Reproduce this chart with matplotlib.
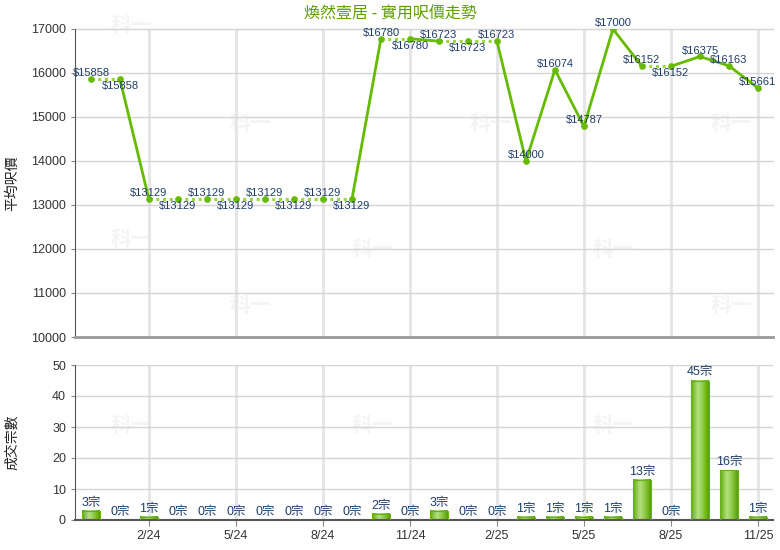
import numpy as np
import matplotlib
matplotlib.use("Agg")
import matplotlib.pyplot as plt
from matplotlib.colors import LinearSegmentedColormap

plt.rcParams['font.family'] = ['Liberation Sans', 'Noto Sans CJK TC', 'DejaVu Sans']

# monthly data 12/23 .. 11/25
months = ['12/23', '1/24', '2/24', '3/24', '4/24', '5/24', '6/24', '7/24', '8/24',
          '9/24', '10/24', '11/24', '12/24', '1/25', '2/25', '3/25', '4/25', '5/25',
          '6/25', '7/25', '8/25', '9/25', '10/25', '11/25']
prices = [15858, 15858, 13129, 13129, 13129, 13129, 13129, 13129, 13129, 13129,
          16780, 16780, 16723, 16723, 16723, 14000, 16074, 14787, 17000, 16152,
          16152, 16375, 16163, 15661]
volumes = [3, 0, 1, 0, 0, 0, 0, 0, 0, 0, 2, 0, 3, 0, 0, 1, 1, 1, 1, 13, 0, 45, 16, 1]

title = '煥然壹居 - 實用呎價走勢'
ylabel_top = '平均呎價'
ylabel_bottom = '成交宗數'

x = np.arange(len(months))
tick_idx = [i for i, m in enumerate(months) if int(m.split('/')[0]) % 3 == 2]

navy = '#1f3d6b'
solid_green = '#66bb00'
dot_green = '#9ad93a'

fig = plt.figure(figsize=(7.8, 5.5), dpi=100)

# faint watermarks (only where they do not sit on labels)
for fx, fy in [(131, 25), (250, 123), (490, 123), (731, 123),
               (131, 240), (372, 250), (613, 250), (250, 305), (731, 305),
               (131, 425), (372, 425), (613, 425)]:
    fig.text(fx / 780, 1 - fy / 550, '科一', fontsize=15, fontweight='bold',
             color='#f4f4f4', ha='center', va='center', zorder=-5,
             family=['Noto Sans CJK TC'])

ax1 = fig.add_axes([75 / 780, 1 - 337 / 550, 698 / 780, 308 / 550])
ax2 = fig.add_axes([75 / 780, 1 - 520 / 550, 698 / 780, 155 / 550])
for ax in (ax1, ax2):
    ax.set_facecolor('none')
    ax.set_xlim(-0.55, len(months) - 0.48)
    for t in tick_idx:
        ax.axvline(t, color='#e6e6e6', lw=2.2, zorder=0)
    ax.spines['top'].set_visible(False)
    ax.spines['right'].set_visible(False)
    ax.spines['left'].set_color('#555555')
    ax.tick_params(axis='y', labelsize=9, colors='#333333', length=3, color='#888888')
    ax.set_xticks([x[i] for i in tick_idx])

# ---- price chart
ax1.set_ylim(10000, 17000)
ax1.set_yticks(range(10000, 17001, 1000))
for v in range(10000, 17001, 1000):
    ax1.axhline(v, color='#d4d4d4', lw=1, zorder=0, clip_on=False)
ax1.spines['bottom'].set_color('#9a9a9a')
ax1.spines['bottom'].set_linewidth(2)
ax1.tick_params(axis='x', length=0, labelbottom=False)

for i in range(len(x) - 1):
    if volumes[i + 1] > 0:
        ax1.plot(x[i:i + 2], prices[i:i + 2], color=solid_green, lw=2, zorder=3,
                 solid_capstyle='round')
    else:
        ax1.plot(x[i:i + 2], prices[i:i + 2], color=dot_green, lw=2.2, zorder=3,
                 linestyle=(0, (1, 1.2)))
ax1.plot(x, prices, 'o', color=solid_green, ms=3.8, zorder=4)

pos = []
for i, p in enumerate(prices):
    if i > 0 and p == prices[i - 1] and pos[-1] == 'up':
        pos.append('down')
    else:
        pos.append('up')
for i, p in enumerate(prices):
    dy = 4.3 if pos[i] == 'up' else -5.0
    ax1.annotate('$%d' % p, (x[i], p), xytext=(0, dy), textcoords='offset points',
                 ha='center', va='center', fontsize=8, color=navy, zorder=5)

ax1.set_ylabel(ylabel_top, fontsize=10, color='#222222')
ax1.yaxis.label.set_va('center')
ax1.yaxis.set_label_coords(-0.09, 0.5)

# ---- volume chart
ax2.set_ylim(0, 50)
ax2.set_yticks(range(0, 51, 10))
for v in range(10, 51, 10):
    ax2.axhline(v, color='#d4d4d4', lw=1, zorder=0)
ax2.spines['bottom'].set_color('#555555')
ax2.spines['bottom'].set_linewidth(1.5)
ax2.set_xticklabels([months[i] for i in tick_idx], fontsize=9, color='#333333')
ax2.tick_params(axis='x', length=4, color='#888888', pad=3)

cmap = LinearSegmentedColormap.from_list(
    'bar', ['#5ca810', '#8cc84a', '#b4e07e', '#98d055', '#78bb2a', '#5a9e0c'])
grad = np.linspace(0, 1, 64).reshape(1, -1)
w = 0.62
for i, v in enumerate(volumes):
    if v > 0:
        ax2.imshow(grad, cmap=cmap, aspect='auto', zorder=2,
                   extent=(x[i] - w / 2, x[i] + w / 2, 0, v))
        ax2.bar(x[i], v, width=w, facecolor='none', edgecolor='#66b01a', lw=0.8, zorder=3)
    ax2.annotate('%d宗' % v, (x[i], v), xytext=(0, 1.5), textcoords='offset points',
                 ha='center', va='bottom', fontsize=9, color=navy, zorder=5)
ax2.set_xlim(-0.55, len(months) - 0.48)
ax2.set_ylim(0, 50)

ax2.set_ylabel(ylabel_bottom, fontsize=10, color='#222222')
ax2.yaxis.label.set_va('center')
ax2.yaxis.set_label_coords(-0.09, 0.5)

fig.text(0.5, 1 - 14 / 550, title, ha='center', va='center', fontsize=11.5,
         color='#5fa000', family=['Noto Sans CJK TC', 'DejaVu Sans'])

fig.savefig('out.png', dpi=100)
